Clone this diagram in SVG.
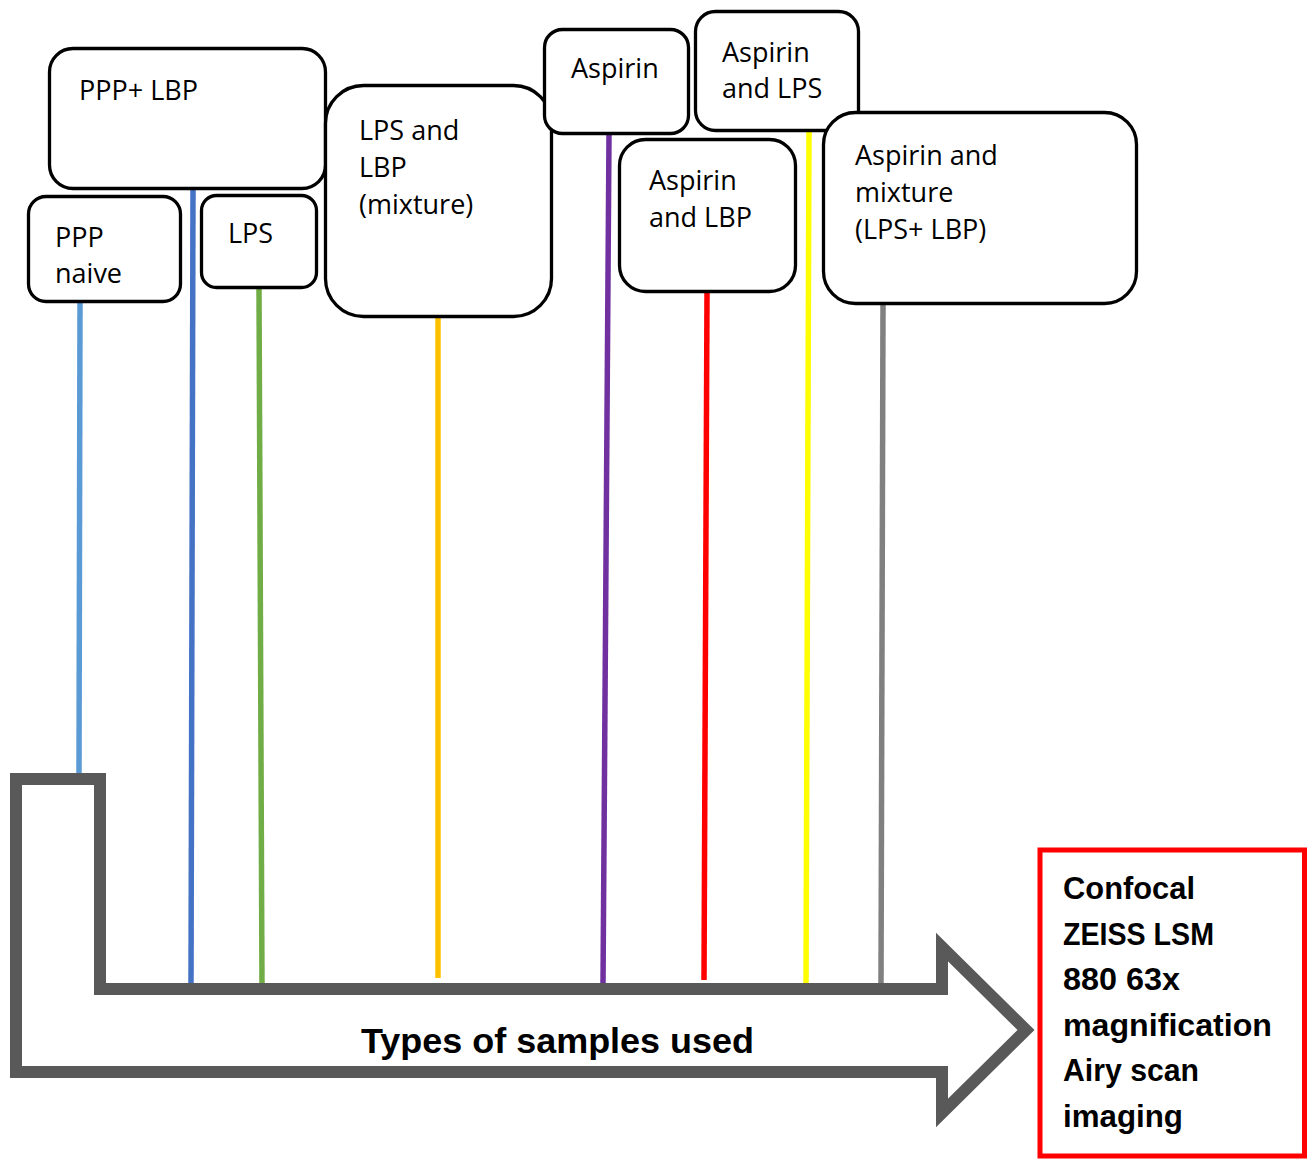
<svg xmlns="http://www.w3.org/2000/svg" width="1312" height="1160" viewBox="0 0 1312 1160">
  <style>
    .node rect { fill: #ffffff; stroke: #000000; stroke-width: 3.3; }
    .node text { font-family: "Open Sans", "Noto Sans", sans-serif; font-size: 27px; fill: #000000; }
    .link { stroke-width: 5.5; fill: none; }
    .bold { font-family: "Liberation Sans", Arial, sans-serif; font-weight: bold; fill: #000000; }
  </style>
  <rect x="0" y="0" width="1312" height="1160" fill="#ffffff"/>

  <!-- connectors from each sample box down to the flow arrow -->
  <g id="connectors">
    <line class="link" stroke="#5B9BD5" x1="80" y1="303" x2="79" y2="776"/>
    <line class="link" stroke="#4472C4" x1="193" y1="190" x2="191" y2="985"/>
    <line class="link" stroke="#70AD47" x1="259" y1="289" x2="262" y2="985"/>
    <line class="link" stroke="#FFC000" x1="438" y1="318" x2="438" y2="978"/>
    <line class="link" stroke="#7030A0" x1="609" y1="135" x2="603" y2="985"/>
    <line class="link" stroke="#FF0000" x1="707" y1="293" x2="704" y2="980"/>
    <line class="link" stroke="#FFFF00" x1="809" y1="132" x2="806" y2="985"/>
    <line class="link" stroke="#808080" x1="883" y1="305" x2="881" y2="985"/>
  </g>

  <!-- sample boxes -->
  <g id="ppp-lbp" class="node">
    <rect x="49.5" y="48.5" width="276" height="140" rx="23.5"/>
    <text x="79" y="100">PPP+ LBP</text>
  </g>
  <g id="ppp-naive" class="node">
    <rect x="28.5" y="196.5" width="152" height="105" rx="17.5"/>
    <text x="55" y="247">PPP</text>
    <text x="55" y="283">naive</text>
  </g>
  <g id="lps" class="node">
    <rect x="201.5" y="195.5" width="115" height="92" rx="15"/>
    <text x="228" y="243">LPS</text>
  </g>
  <g id="lps-lbp" class="node">
    <rect x="325.5" y="85.5" width="226" height="231" rx="38"/>
    <text x="359" y="140">LPS and</text>
    <text x="359" y="177">LBP</text>
    <text x="359" y="214">(mixture)</text>
  </g>
  <g id="aspirin" class="node">
    <rect x="544.5" y="29.5" width="144" height="104" rx="18"/>
    <text x="571" y="78">Aspirin</text>
  </g>
  <g id="aspirin-lps" class="node">
    <rect x="695.5" y="11.5" width="163" height="119" rx="20"/>
    <text x="722" y="62">Aspirin</text>
    <text x="722" y="98">and LPS</text>
  </g>
  <g id="aspirin-lbp" class="node">
    <rect x="619.5" y="139.5" width="176" height="152" rx="26"/>
    <text x="649" y="190">Aspirin</text>
    <text x="649" y="227">and LBP</text>
  </g>
  <g id="aspirin-mixture" class="node">
    <rect x="823.5" y="112.5" width="313" height="191" rx="32"/>
    <text x="855" y="165">Aspirin and</text>
    <text x="855" y="202">mixture</text>
    <text x="855" y="239">(LPS+ LBP)</text>
  </g>

  <!-- bent flow arrow -->
  <g id="flow-arrow">
    <polygon points="16,779 100,779 100,989 942,989 942,947 1026,1030 942,1113 942,1072 16,1072"
             fill="none" stroke="#595959" stroke-width="12" stroke-linejoin="miter" stroke-miterlimit="10"/>
    <text class="bold" x="361" y="1053" font-size="35" textLength="393" lengthAdjust="spacingAndGlyphs">Types of samples used</text>
  </g>

  <!-- imaging method -->
  <g id="imaging">
    <rect x="1040" y="850" width="264.5" height="306" fill="#ffffff" stroke="#FF0000" stroke-width="5"/>
    <g class="bold" font-size="31">
      <text x="1063" y="899" textLength="132" lengthAdjust="spacingAndGlyphs">Confocal</text>
      <text x="1063" y="945" textLength="151" lengthAdjust="spacingAndGlyphs">ZEISS LSM</text>
      <text x="1063" y="990" textLength="117" lengthAdjust="spacingAndGlyphs">880 63x</text>
      <text x="1063" y="1036" textLength="209" lengthAdjust="spacingAndGlyphs">magnification</text>
      <text x="1063" y="1081" textLength="136" lengthAdjust="spacingAndGlyphs">Airy scan</text>
      <text x="1063" y="1127" textLength="120" lengthAdjust="spacingAndGlyphs">imaging</text>
    </g>
  </g>
</svg>
